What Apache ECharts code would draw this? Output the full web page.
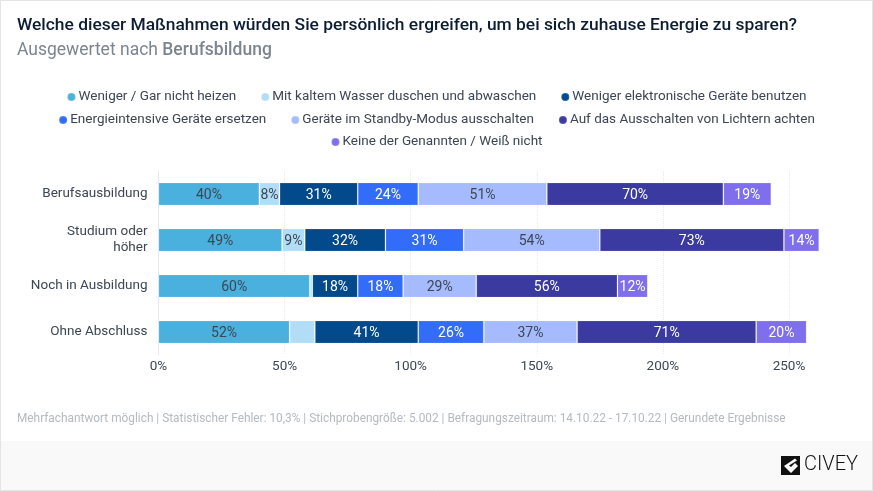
<!DOCTYPE html>
<html><head><meta charset="utf-8">
<style>html,body{margin:0;padding:0;background:#fff}#c{width:873px;height:491px}</style>
<script src="https://cdn.jsdelivr.net/npm/echarts@6/dist/echarts.min.js"></script>
</head><body><div id="c"></div>
<script>
const categories = ["Berufsausbildung","Studium oder\nhöher","Noch in Ausbildung","Ohne Abschluss"];
const seriesNames = ["Weniger / Gar nicht heizen","Mit kaltem Wasser duschen und abwaschen","Weniger elektronische Geräte benutzen","Energieintensive Geräte ersetzen","Geräte im Standby-Modus ausschalten","Auf das Ausschalten von Lichtern achten","Keine der Genannten / Weiß nicht"];
const colors = ["#4ab1de","#b1def6","#024a8c","#326cf9","#a5bbfd","#3b3aa0","#7f6fed"];
const labelColors = ["#3c4654","#3c4654","#fff","#fff","#3c4654","#fff","#fff"];
const heizen = [40,49,60,52];
const wasser = [8,9,1,10];
const elektronik = [31,32,18,41];
const ersetzen = [24,31,18,26];
const standby = [51,54,29,37];
const lichter = [70,73,56,71];
const keine = [19,14,12,20];
const values = [heizen,wasser,elektronik,ersetzen,standby,lichter,keine];
const unlabeled = {1:[2,3]};
const legendRows = [[0,1,2],[3,4,5],[6]];
const legendTops = [90,113,135];
const font = "Roboto";
const chart = echarts.init(document.getElementById('c'),null,{renderer:'canvas'});
chart.setOption({
  animation:false,
  backgroundColor:'#fff',
  textStyle:{fontFamily:font},
  title:[
    {text:"Welche dieser Maßnahmen würden Sie persönlich ergreifen, um bei sich zuhause Energie zu sparen?",left:17,top:17,padding:0,textStyle:{fontFamily:font,fontSize:17.4,fontWeight:500,color:'#0c1c33'}},
    {text:"Ausgewertet nach {b|Berufsbildung}",left:17,top:42,padding:0,textStyle:{fontFamily:font,fontSize:17.5,fontWeight:400,color:'#7c858f',rich:{b:{fontFamily:font,fontSize:17.5,fontWeight:500,color:'#7c858f'}}}},
    {text:"Mehrfachantwort möglich | Statistischer Fehler: 10,3% | Stichprobengröße: 5.002 | Befragungszeitraum: 14.10.22 - 17.10.22 | Gerundete Ergebnisse",left:17,top:413,padding:0,textStyle:{fontFamily:font,fontSize:11.85,fontWeight:400,color:'#b4bac1'}}
  ],
  legend:legendRows.map((r,i)=>({
    data:r.map(k=>seriesNames[k]),top:legendTops[i],left:'center',icon:'circle',itemWidth:8,itemHeight:8,itemGap:24,padding:0,
    selectedMode:false,textStyle:{fontFamily:font,fontSize:13.5,color:'#3c4654',padding:[0,0,0,-2]}
  })),
  grid:{left:158.5,top:171,width:693.5,height:184,containLabel:false},
  xAxis:{type:'value',min:0,max:275,interval:50,
    axisLine:{show:false},axisTick:{show:false},
    axisLabel:{showMaxLabel:false,formatter:'{value}%',color:'#3c4654',fontFamily:font,fontSize:13.5,margin:5},
    splitLine:{show:true,showMinLine:false,showMaxLine:false,lineStyle:{color:'#e6e8ea',type:'dotted',width:1}}},
  yAxis:{type:'category',inverse:true,data:categories,
    axisLine:{show:true,lineStyle:{color:'#e6e8ea',width:1}},axisTick:{show:false},
    axisLabel:{color:'#3c4654',fontFamily:font,fontSize:13.5,margin:11,align:'right',lineHeight:16,padding:[1,0,0,0]}},
  series:seriesNames.map((n,k)=>({
    name:n,type:'bar',stack:'all',barWidth:23,
    itemStyle:{color:colors[k],borderColor:'rgba(255,255,255,0.15)',borderWidth:1},
    emphasis:{disabled:true},
    label:{show:true,position:'inside',offset:[0,1],formatter:'{c}%',color:labelColors[k],fontFamily:font,fontSize:14,textBorderWidth:0},
    data:values[k].map((v,j)=>(unlabeled[k]||[]).includes(j)?{value:v,label:{show:false}}:v)
  })),
  graphic:[
    {type:'rect',z:-10,shape:{x:0,y:441,width:873,height:50},style:{fill:'#f9f9f9'}},
    {type:'rect',z:-9,shape:{x:0.5,y:0.5,width:872,height:490},style:{fill:'none',stroke:'#e4e4e4',lineWidth:1}},
    {type:'rect',shape:{x:781,y:456,width:19,height:19},style:{fill:'#111'}},
    {type:'polygon',shape:{points:[[795,458.5],[784,466],[791,473],[798,466],[795,463],[791,467],[789,465.5],[797,460.5]]},style:{fill:'#f9f9f9'}},
    {type:'text',x:804,y:454.5,style:{text:'CIVEY',fontFamily:font,fontSize:20,fontWeight:300,fill:'#111'}}
  ]
});
</script></body></html>
